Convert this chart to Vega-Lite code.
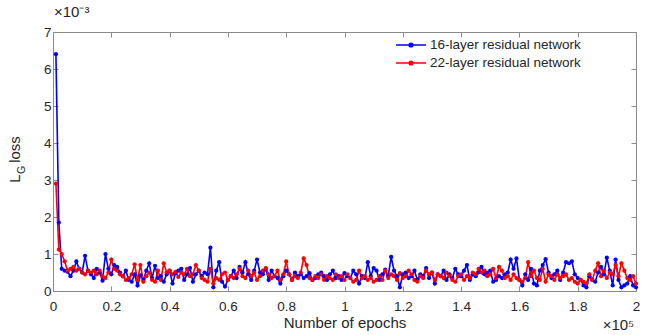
{
"$schema": "https://vega.github.io/schema/vega-lite/v6.json",
"width": 583, "height": 259,
"autosize": {"type": "none"},
"padding": {"left": 53, "top": 32, "right": 11, "bottom": 44},
"background": "white",
"config": {"view": {"stroke": null}, "font": "Liberation Sans"},
"title": {"text": "×10⁻³", "anchor": "start", "frame": "group", "offset": 5, "fontSize": 15, "fontWeight": "normal", "color": "#262626", "dx": 1},
"data": {"values": [
{"x":1000,"net16":6.40e-3,"net22":2.90e-3},
{"x":2000,"net16":1.85e-3,"net22":1.12e-3},
{"x":3000,"net16":0.60e-3,"net22":1.00e-3},
{"x":4000,"net16":0.55e-3,"net22":0.80e-3},
{"x":5000,"net16":0.52e-3,"net22":0.55e-3},
{"x":6000,"net16":0.40e-3,"net22":0.60e-3},
{"x":7000,"net16":0.55e-3,"net22":0.65e-3},
{"x":8000,"net16":0.80e-3,"net22":0.55e-3},
{"x":9000,"net16":0.60e-3,"net22":0.60e-3},
{"x":10000,"net16":0.50e-3,"net22":0.50e-3},
{"x":11000,"net16":0.95e-3,"net22":0.45e-3},
{"x":12000,"net16":0.55e-3,"net22":0.55e-3},
{"x":13000,"net16":0.45e-3,"net22":0.50e-3},
{"x":14000,"net16":0.35e-3,"net22":0.55e-3},
{"x":15000,"net16":0.60e-3,"net22":0.45e-3},
{"x":16000,"net16":0.50e-3,"net22":0.55e-3},
{"x":17000,"net16":0.28e-3,"net22":0.40e-3},
{"x":18000,"net16":1.00e-3,"net22":0.35e-3},
{"x":19000,"net16":0.60e-3,"net22":0.50e-3},
{"x":20000,"net16":0.45e-3,"net22":0.85e-3},
{"x":21000,"net16":0.70e-3,"net22":0.60e-3},
{"x":22000,"net16":0.65e-3,"net22":0.55e-3},
{"x":23000,"net16":0.50e-3,"net22":0.45e-3},
{"x":24000,"net16":0.40e-3,"net22":0.40e-3},
{"x":25000,"net16":0.55e-3,"net22":0.30e-3},
{"x":26000,"net16":0.30e-3,"net22":0.35e-3},
{"x":27000,"net16":0.25e-3,"net22":0.45e-3},
{"x":28000,"net16":0.45e-3,"net22":0.72e-3},
{"x":29000,"net16":0.15e-3,"net22":0.30e-3},
{"x":30000,"net16":0.42e-3,"net22":0.70e-3},
{"x":31000,"net16":0.30e-3,"net22":0.25e-3},
{"x":32000,"net16":0.55e-3,"net22":0.40e-3},
{"x":33000,"net16":0.75e-3,"net22":0.50e-3},
{"x":34000,"net16":0.35e-3,"net22":0.30e-3},
{"x":35000,"net16":0.68e-3,"net22":0.25e-3},
{"x":36000,"net16":0.35e-3,"net22":0.55e-3},
{"x":37000,"net16":0.40e-3,"net22":0.30e-3},
{"x":38000,"net16":0.25e-3,"net22":0.75e-3},
{"x":39000,"net16":0.45e-3,"net22":0.50e-3},
{"x":40000,"net16":0.55e-3,"net22":0.55e-3},
{"x":41000,"net16":0.20e-3,"net22":0.45e-3},
{"x":42000,"net16":0.48e-3,"net22":0.52e-3},
{"x":43000,"net16":0.55e-3,"net22":0.38e-3},
{"x":44000,"net16":0.60e-3,"net22":0.50e-3},
{"x":45000,"net16":0.30e-3,"net22":0.45e-3},
{"x":46000,"net16":0.45e-3,"net22":0.60e-3},
{"x":47000,"net16":0.62e-3,"net22":0.40e-3},
{"x":48000,"net16":0.25e-3,"net22":0.45e-3},
{"x":49000,"net16":0.45e-3,"net22":0.70e-3},
{"x":50000,"net16":0.55e-3,"net22":0.55e-3},
{"x":51000,"net16":0.40e-3,"net22":0.35e-3},
{"x":52000,"net16":0.50e-3,"net22":0.30e-3},
{"x":53000,"net16":0.45e-3,"net22":0.25e-3},
{"x":54000,"net16":1.17e-3,"net22":0.60e-3},
{"x":55000,"net16":0.10e-3,"net22":0.20e-3},
{"x":56000,"net16":0.55e-3,"net22":0.35e-3},
{"x":57000,"net16":0.78e-3,"net22":0.30e-3},
{"x":58000,"net16":0.25e-3,"net22":0.45e-3},
{"x":59000,"net16":0.12e-3,"net22":0.50e-3},
{"x":60000,"net16":0.30e-3,"net22":0.30e-3},
{"x":61000,"net16":0.40e-3,"net22":0.40e-3},
{"x":62000,"net16":0.55e-3,"net22":0.35e-3},
{"x":63000,"net16":0.35e-3,"net22":0.45e-3},
{"x":64000,"net16":0.65e-3,"net22":0.60e-3},
{"x":65000,"net16":0.50e-3,"net22":0.40e-3},
{"x":66000,"net16":0.78e-3,"net22":0.35e-3},
{"x":67000,"net16":0.45e-3,"net22":0.55e-3},
{"x":68000,"net16":0.30e-3,"net22":0.40e-3},
{"x":69000,"net16":0.55e-3,"net22":0.50e-3},
{"x":70000,"net16":0.85e-3,"net22":0.30e-3},
{"x":71000,"net16":0.50e-3,"net22":0.40e-3},
{"x":72000,"net16":0.45e-3,"net22":0.55e-3},
{"x":73000,"net16":0.60e-3,"net22":0.62e-3},
{"x":74000,"net16":0.30e-3,"net22":0.45e-3},
{"x":75000,"net16":0.55e-3,"net22":0.35e-3},
{"x":76000,"net16":0.40e-3,"net22":0.40e-3},
{"x":77000,"net16":0.35e-3,"net22":0.55e-3},
{"x":78000,"net16":0.20e-3,"net22":0.30e-3},
{"x":79000,"net16":0.40e-3,"net22":0.45e-3},
{"x":80000,"net16":0.55e-3,"net22":0.80e-3},
{"x":81000,"net16":0.45e-3,"net22":0.45e-3},
{"x":82000,"net16":0.30e-3,"net22":0.30e-3},
{"x":83000,"net16":0.50e-3,"net22":0.40e-3},
{"x":84000,"net16":0.40e-3,"net22":0.35e-3},
{"x":85000,"net16":0.45e-3,"net22":0.50e-3},
{"x":86000,"net16":0.35e-3,"net22":0.88e-3},
{"x":87000,"net16":0.40e-3,"net22":0.70e-3},
{"x":88000,"net16":0.48e-3,"net22":0.35e-3},
{"x":89000,"net16":0.30e-3,"net22":0.30e-3},
{"x":90000,"net16":0.35e-3,"net22":0.40e-3},
{"x":91000,"net16":0.45e-3,"net22":0.35e-3},
{"x":92000,"net16":0.50e-3,"net22":0.45e-3},
{"x":93000,"net16":0.40e-3,"net22":0.30e-3},
{"x":94000,"net16":0.30e-3,"net22":0.40e-3},
{"x":95000,"net16":0.45e-3,"net22":0.35e-3},
{"x":96000,"net16":0.55e-3,"net22":0.30e-3},
{"x":97000,"net16":0.35e-3,"net22":0.45e-3},
{"x":98000,"net16":0.40e-3,"net22":0.35e-3},
{"x":99000,"net16":0.30e-3,"net22":0.40e-3},
{"x":100000,"net16":0.48e-3,"net22":0.30e-3},
{"x":101000,"net16":0.40e-3,"net22":0.45e-3},
{"x":102000,"net16":0.35e-3,"net22":0.35e-3},
{"x":103000,"net16":0.55e-3,"net22":0.25e-3},
{"x":104000,"net16":0.45e-3,"net22":0.30e-3},
{"x":105000,"net16":0.20e-3,"net22":0.55e-3},
{"x":106000,"net16":0.40e-3,"net22":0.35e-3},
{"x":107000,"net16":0.35e-3,"net22":0.40e-3},
{"x":108000,"net16":0.78e-3,"net22":0.30e-3},
{"x":109000,"net16":0.40e-3,"net22":0.35e-3},
{"x":110000,"net16":0.62e-3,"net22":0.25e-3},
{"x":111000,"net16":0.55e-3,"net22":0.30e-3},
{"x":112000,"net16":0.30e-3,"net22":0.40e-3},
{"x":113000,"net16":0.45e-3,"net22":0.30e-3},
{"x":114000,"net16":0.58e-3,"net22":0.55e-3},
{"x":115000,"net16":0.40e-3,"net22":0.35e-3},
{"x":116000,"net16":0.92e-3,"net22":0.45e-3},
{"x":117000,"net16":0.55e-3,"net22":0.40e-3},
{"x":118000,"net16":0.40e-3,"net22":0.30e-3},
{"x":119000,"net16":0.10e-3,"net22":0.48e-3},
{"x":120000,"net16":0.45e-3,"net22":0.35e-3},
{"x":121000,"net16":0.50e-3,"net22":0.40e-3},
{"x":122000,"net16":0.35e-3,"net22":0.55e-3},
{"x":123000,"net16":0.40e-3,"net22":0.45e-3},
{"x":124000,"net16":0.55e-3,"net22":0.30e-3},
{"x":125000,"net16":0.30e-3,"net22":0.25e-3},
{"x":126000,"net16":0.45e-3,"net22":0.40e-3},
{"x":127000,"net16":0.40e-3,"net22":0.35e-3},
{"x":128000,"net16":0.62e-3,"net22":0.55e-3},
{"x":129000,"net16":0.35e-3,"net22":0.45e-3},
{"x":130000,"net16":0.50e-3,"net22":0.50e-3},
{"x":131000,"net16":0.20e-3,"net22":0.30e-3},
{"x":132000,"net16":0.45e-3,"net22":0.45e-3},
{"x":133000,"net16":0.40e-3,"net22":0.40e-3},
{"x":134000,"net16":0.55e-3,"net22":0.35e-3},
{"x":135000,"net16":0.30e-3,"net22":0.50e-3},
{"x":136000,"net16":0.45e-3,"net22":0.40e-3},
{"x":137000,"net16":0.35e-3,"net22":0.30e-3},
{"x":138000,"net16":0.60e-3,"net22":0.25e-3},
{"x":139000,"net16":0.45e-3,"net22":0.40e-3},
{"x":140000,"net16":0.40e-3,"net22":0.45e-3},
{"x":141000,"net16":0.55e-3,"net22":0.30e-3},
{"x":142000,"net16":0.70e-3,"net22":0.40e-3},
{"x":143000,"net16":0.30e-3,"net22":0.35e-3},
{"x":144000,"net16":0.45e-3,"net22":0.50e-3},
{"x":145000,"net16":0.40e-3,"net22":0.45e-3},
{"x":146000,"net16":0.50e-3,"net22":0.60e-3},
{"x":147000,"net16":0.65e-3,"net22":0.50e-3},
{"x":148000,"net16":0.45e-3,"net22":0.55e-3},
{"x":149000,"net16":0.50e-3,"net22":0.40e-3},
{"x":150000,"net16":0.55e-3,"net22":0.45e-3},
{"x":151000,"net16":0.25e-3,"net22":0.60e-3},
{"x":152000,"net16":0.30e-3,"net22":0.35e-3},
{"x":153000,"net16":0.40e-3,"net22":0.65e-3},
{"x":154000,"net16":0.35e-3,"net22":0.55e-3},
{"x":155000,"net16":0.45e-3,"net22":0.35e-3},
{"x":156000,"net16":0.50e-3,"net22":0.40e-3},
{"x":157000,"net16":0.85e-3,"net22":0.30e-3},
{"x":158000,"net16":0.60e-3,"net22":0.45e-3},
{"x":159000,"net16":0.88e-3,"net22":0.35e-3},
{"x":160000,"net16":0.30e-3,"net22":0.30e-3},
{"x":161000,"net16":0.15e-3,"net22":0.25e-3},
{"x":162000,"net16":0.45e-3,"net22":0.35e-3},
{"x":163000,"net16":0.30e-3,"net22":0.78e-3},
{"x":164000,"net16":0.60e-3,"net22":0.40e-3},
{"x":165000,"net16":0.20e-3,"net22":0.55e-3},
{"x":166000,"net16":0.15e-3,"net22":0.35e-3},
{"x":167000,"net16":0.55e-3,"net22":0.30e-3},
{"x":168000,"net16":0.70e-3,"net22":0.60e-3},
{"x":169000,"net16":0.86e-3,"net22":0.25e-3},
{"x":170000,"net16":0.50e-3,"net22":0.45e-3},
{"x":171000,"net16":0.35e-3,"net22":0.40e-3},
{"x":172000,"net16":0.45e-3,"net22":0.30e-3},
{"x":173000,"net16":0.55e-3,"net22":0.45e-3},
{"x":174000,"net16":0.30e-3,"net22":0.35e-3},
{"x":175000,"net16":0.50e-3,"net22":0.40e-3},
{"x":176000,"net16":0.78e-3,"net22":0.45e-3},
{"x":177000,"net16":0.75e-3,"net22":0.30e-3},
{"x":178000,"net16":0.80e-3,"net22":0.35e-3},
{"x":179000,"net16":0.45e-3,"net22":0.25e-3},
{"x":180000,"net16":0.35e-3,"net22":0.20e-3},
{"x":181000,"net16":0.30e-3,"net22":0.30e-3},
{"x":182000,"net16":0.15e-3,"net22":0.25e-3},
{"x":183000,"net16":0.10e-3,"net22":0.20e-3},
{"x":184000,"net16":0.40e-3,"net22":0.45e-3},
{"x":185000,"net16":0.30e-3,"net22":0.30e-3},
{"x":186000,"net16":0.25e-3,"net22":0.55e-3},
{"x":187000,"net16":0.50e-3,"net22":0.75e-3},
{"x":188000,"net16":0.65e-3,"net22":0.40e-3},
{"x":189000,"net16":0.45e-3,"net22":0.55e-3},
{"x":190000,"net16":0.90e-3,"net22":0.35e-3},
{"x":191000,"net16":0.55e-3,"net22":0.50e-3},
{"x":192000,"net16":0.15e-3,"net22":0.45e-3},
{"x":193000,"net16":0.85e-3,"net22":0.70e-3},
{"x":194000,"net16":0.30e-3,"net22":0.40e-3},
{"x":195000,"net16":0.10e-3,"net22":0.75e-3},
{"x":196000,"net16":0.15e-3,"net22":0.55e-3},
{"x":197000,"net16":0.20e-3,"net22":0.35e-3},
{"x":198000,"net16":0.40e-3,"net22":0.30e-3},
{"x":199000,"net16":0.15e-3,"net22":0.40e-3},
{"x":200000,"net16":0.10e-3,"net22":0.20e-3}
]},
"transform": [{"fold": ["net16", "net22"], "as": ["series", "loss"]}],
"layer": [
{
"mark": {"type": "line", "strokeWidth": 1.6, "point": {"filled": true, "size": 18}},
"encoding": {
"x": {"field": "x", "type": "quantitative", "scale": {"domain": [0, 200000], "nice": false, "zero": false},
"axis": {"orient": "bottom", "values": [0,20000,40000,60000,80000,100000,120000,140000,160000,180000,200000],
"labelExpr": "format(datum.value/100000,'~g')", "grid": false, "tickSize": -5, "labelPadding": 13,
"labelFontSize": 13.5, "labelColor": "#262626", "domainColor": "#8a8a8a", "tickColor": "#8a8a8a", "labelFlush": false,
"title": "Number of epochs", "titleFontSize": 15, "titleFontWeight": "normal", "titleColor": "#262626", "titlePadding": 3}},
"y": {"field": "loss", "type": "quantitative", "scale": {"domain": [0, 0.007], "nice": false},
"axis": {"orient": "left", "values": [0,0.001,0.002,0.003,0.004,0.005,0.006,0.007],
"labelExpr": "format(datum.value*1000,'~g')", "grid": false, "tickSize": -5, "labelPadding": 7,
"labelFontSize": 13.5, "labelColor": "#262626", "domainColor": "#8a8a8a", "tickColor": "#8a8a8a", "labelFlush": false,
"title": "L\u2002 loss", "titleFontSize": 15, "titleFontWeight": "normal", "titleColor": "#262626",
"titleX": -34, "titleY": 127, "titleAngle": 270, "titleAlign": "center", "titleBaseline": "alphabetic"}},
"color": {"field": "series", "type": "nominal", "scale": {"domain": ["net16", "net22"], "range": ["#0000ff", "#ff0000"]},
"legend": {"orient": "none", "legendX": 348, "legendY": 3, "title": null,
"symbolType": "M-1.67,0H1.67M-0.2,0A0.2,0.2,0,1,1,0.2,0A0.2,0.2,0,1,1,-0.2,0Z", "symbolSize": 324, "symbolStrokeWidth": 1.6,
"labelFontSize": 13.5, "labelColor": "#262626", "labelOffset": 9, "rowPadding": 1,
"labelExpr": "datum.value=='net16'?'16-layer residual network':'22-layer residual network'",
"encode": {"symbols": {"update": {"fill": {"scale": "color", "field": "value"}, "stroke": {"scale": "color", "field": "value"}}}}}}
}
},
{
"mark": {"type": "line", "opacity": 0},
"encoding": {
"x": {"field": "x", "type": "quantitative",
"axis": {"orient": "top", "values": [0,20000,40000,60000,80000,100000,120000,140000,160000,180000,200000],
"labels": false, "grid": false, "tickSize": -5, "domainColor": "#8a8a8a", "tickColor": "#8a8a8a",
"title": "×10⁵", "titleFontSize": 15, "titleFontWeight": "normal", "titleColor": "#262626",
"titleX": 565, "titleY": 297, "titleAngle": 0, "titleAlign": "center", "titleBaseline": "alphabetic"}},
"y": {"field": "loss", "type": "quantitative",
"axis": {"orient": "right", "values": [0,0.001,0.002,0.003,0.004,0.005,0.006,0.007],
"labels": false, "grid": false, "tickSize": -5, "domainColor": "#8a8a8a", "tickColor": "#8a8a8a",
"title": "G", "titleFontSize": 10.5, "titleFontWeight": "normal", "titleColor": "#262626",
"titleX": -612, "titleY": 137.5, "titleAngle": 270, "titleAlign": "center", "titleBaseline": "alphabetic"}}
}
}
],
"resolve": {"axis": {"x": "independent", "y": "independent"}}
}
